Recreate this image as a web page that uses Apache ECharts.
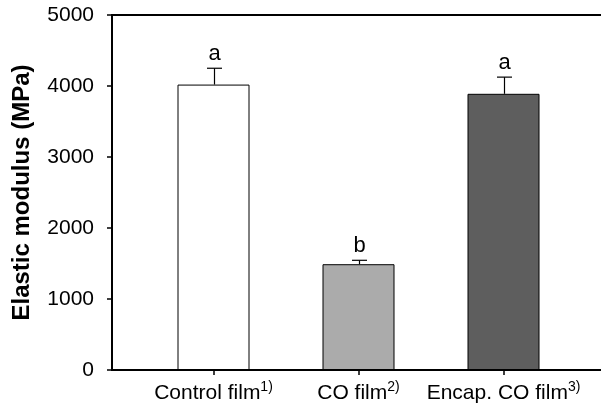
<!DOCTYPE html>
<html>
<head>
<meta charset="utf-8">
<script src="https://cdn.jsdelivr.net/npm/echarts@6/dist/echarts.min.js"></script>
<style>
html,body{margin:0;padding:0;background:#fff;}
#chart{width:601px;height:411px;}
</style>
</head>
<body>
<div id="chart"></div>
<script>
const categories = ['Control film', 'CO film', 'Encap. CO film'];
const footnotes = ['1)', '2)', '3)'];
const positions = [1, 2, 3];
const values = [4020, 1490, 3890];
const errors = [230, 55, 235];
const letters = ['a', 'b', 'a'];
const barColors = ['#ffffff', '#ababab', '#5e5e5e'];

const FONT = 'Liberation Sans, Arial, sans-serif';
const chart = echarts.init(document.getElementById('chart'), null, {renderer: 'canvas'});

const barData = positions.map((p, i) => ({
  value: [p, values[i]],
  itemStyle: {color: barColors[i], borderColor: '#000', borderWidth: 1}
}));
const errData = positions.map((p, i) => [p, values[i], errors[i]]);

chart.setOption({
  animation: false,
  backgroundColor: '#fff',
  grid: {left: 112, top: 15, width: 507.5, height: 355, show: true,
         outerBoundsMode: 'none', containLabel: false,
         borderColor: '#000', borderWidth: 2, backgroundColor: 'transparent'},
  xAxis: {
    type: 'value', min: 0.3, max: 3.8,
    splitLine: {show: false},
    axisLine: {show: true, lineStyle: {color: '#000', width: 1.5}},
    axisTick: {show: true, customValues: positions, length: 5, lineStyle: {color: '#000', width: 1.5}},
    axisLabel: {
      show: true, customValues: positions, margin: 10,
      formatter: v => {
        const i = positions.indexOf(v);
        return '{m|' + categories[i] + '}{s|' + footnotes[i] + '}';
      },
      rich: {
        m: {fontFamily: FONT, fontSize: 21, color: '#000', lineHeight: 26},
        s: {fontFamily: FONT, fontSize: 14, color: '#000', verticalAlign: 'top', lineHeight: 26, padding: [0, 0, 12, 0]}
      }
    }
  },
  yAxis: {
    type: 'value', min: 0, max: 5000, interval: 1000,
    name: 'Elastic modulus (MPa)', nameLocation: 'middle', nameGap: 78,
    nameTextStyle: {fontFamily: FONT, fontSize: 24, fontWeight: 'bold', color: '#000'},
    splitLine: {show: false},
    axisLine: {show: true, lineStyle: {color: '#000', width: 1.5}},
    axisTick: {show: true, length: 5, lineStyle: {color: '#000', width: 1.5}},
    axisLabel: {fontFamily: FONT, fontSize: 21, color: '#000', margin: 18,
                formatter: v => String(v)}
  },
  series: [
    {
      type: 'bar', data: barData, barWidth: 72, z: 2
    },
    {
      type: 'custom', data: errData, z: 3,
      renderItem: (params, api) => {
        const x = api.value(0), y = api.value(1), e = api.value(2);
        const p0 = api.coord([x, y]);
        const p1 = api.coord([x, y + e]);
        const cx = Math.round(p0[0]) + 0.5;
        return {
          type: 'group',
          children: [
            {type: 'line', shape: {x1: cx, y1: p0[1], x2: cx, y2: p1[1]},
             style: {stroke: '#000', lineWidth: 1.2}},
            {type: 'line', shape: {x1: cx - 7.5, y1: p1[1], x2: cx + 7.5, y2: p1[1]},
             style: {stroke: '#000', lineWidth: 1.2}},
            {type: 'text', x: cx, y: p1[1] - 3,
             style: {text: letters[params.dataIndex], fontFamily: FONT, fontSize: 22,
                     fill: '#000', align: 'center', verticalAlign: 'bottom'}}
          ]
        };
      }
    }
  ]
});
</script>
</body>
</html>
